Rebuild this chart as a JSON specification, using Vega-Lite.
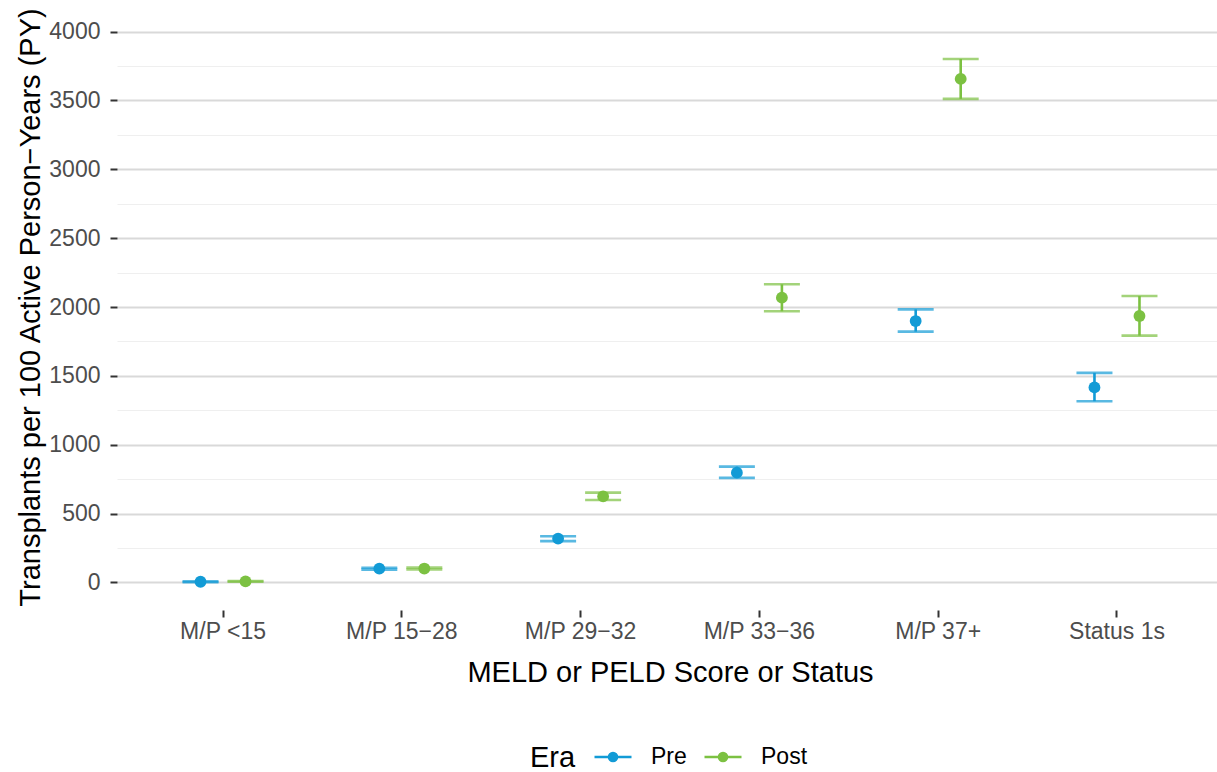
{
  "$schema": "https://vega.github.io/schema/vega-lite/v6.json",
  "width": 1100,
  "height": 606,
  "autosize": {"type": "none"},
  "padding": {"left": 117, "top": 4, "right": 0, "bottom": 162},
  "background": "white",
  "config": {
    "font": "Liberation Sans",
    "view": {"stroke": null}
  },
  "data": {
    "values": [
      {"group": "M/P <15", "era": "Pre", "rate": 5, "lo": 2, "hi": 8},
      {"group": "M/P <15", "era": "Post", "rate": 8, "lo": 5, "hi": 11},
      {"group": "M/P 15−28", "era": "Pre", "rate": 100, "lo": 93, "hi": 107},
      {"group": "M/P 15−28", "era": "Post", "rate": 101, "lo": 94, "hi": 108},
      {"group": "M/P 29−32", "era": "Pre", "rate": 318, "lo": 300, "hi": 335},
      {"group": "M/P 29−32", "era": "Post", "rate": 625, "lo": 599, "hi": 652},
      {"group": "M/P 33−36", "era": "Pre", "rate": 797, "lo": 759, "hi": 841},
      {"group": "M/P 33−36", "era": "Post", "rate": 2068, "lo": 1969, "hi": 2165},
      {"group": "M/P 37+", "era": "Pre", "rate": 1898, "lo": 1821, "hi": 1983},
      {"group": "M/P 37+", "era": "Post", "rate": 3656, "lo": 3511, "hi": 3801},
      {"group": "Status 1s", "era": "Pre", "rate": 1416, "lo": 1316, "hi": 1522},
      {"group": "Status 1s", "era": "Post", "rate": 1935, "lo": 1792, "hi": 2080}
    ]
  },
  "encoding": {
    "x": {
      "field": "group",
      "type": "nominal",
      "sort": ["M/P <15", "M/P 15−28", "M/P 29−32", "M/P 33−36", "M/P 37+", "Status 1s"],
      "scale": {"type": "band", "paddingInner": 0, "paddingOuter": 0.093, "range": [0, 1106]},
      "axis": {
        "title": "MELD or PELD Score or Status",
        "titleFontSize": 29,
        "titleFontWeight": "normal",
        "titleColor": "#000000",
        "titleY": 62,
        "titleBaseline": "middle",
        "domain": false,
        "grid": false,
        "ticks": true,
        "tickSize": 7,
        "tickWidth": 2,
        "tickColor": "#333333",
        "labelFontSize": 23,
        "labelColor": "#4d4d4d",
        "labelPadding": 3,
        "labelAngle": 0
      }
    },
    "xOffset": {
      "field": "era",
      "type": "nominal",
      "sort": ["Pre", "Post"],
      "scale": {"type": "band", "paddingInner": 0, "paddingOuter": 0.986}
    },
    "color": {
      "field": "era",
      "type": "nominal",
      "title": "Era",
      "sort": ["Pre", "Post"],
      "scale": {"domain": ["Pre", "Post"], "range": ["#129bd6", "#7cc142"]},
      "legend": {
        "orient": "none",
        "legendX": 413,
        "legendY": 733,
        "direction": "horizontal",
        "titleOrient": "left",
        "titleAnchor": "middle",
        "titleFontSize": 29,
        "titleFontWeight": "normal",
        "titleColor": "#000000",
        "titleBaseline": "middle",
        "titlePadding": 17,
        "labelFontSize": 23,
        "labelColor": "#000000",
        "labelOffset": 18,
        "columnPadding": 12,
        "padding": 0,
        "symbolType": "M-1,0H1M-0.22,0A0.22,0.22,0,1,1,0.22,0A0.22,0.22,0,1,1,-0.22,0Z",
        "symbolSize": 1369,
        "symbolStrokeWidth": 2.5,
        "encode": {
          "title": {
            "update": {
              "dy": {"value": 5}
            }
          },
          "symbols": {
            "update": {
              "fill": {"scale": "color", "field": "value"},
              "stroke": {"scale": "color", "field": "value"},
              "opacity": {"value": 1}
            }
          }
        }
      }
    }
  },
  "layer": [
    {
      "mark": {"type": "rule", "strokeWidth": 2.6},
      "encoding": {
        "y": {
          "field": "lo",
          "type": "quantitative",
          "scale": {"domain": [-200, 4200], "nice": false, "zero": false},
          "axis": {
            "orient": "left",
            "values": [250, 750, 1250, 1750, 2250, 2750, 3250, 3750],
            "grid": true,
            "gridColor": "#efefef",
            "gridWidth": 1.1,
            "ticks": false,
            "labels": false,
            "domain": false,
            "title": null
          }
        },
        "y2": {"field": "hi"}
      }
    },
    {
      "mark": {"type": "tick", "size": 36, "thickness": 2.6},
      "encoding": {
        "y": {
          "field": "lo",
          "type": "quantitative",
          "axis": {
            "orient": "left",
            "values": [0, 500, 1000, 1500, 2000, 2500, 3000, 3500, 4000],
            "format": "d",
            "grid": true,
            "gridColor": "#d9d9d9",
            "gridWidth": 1.8,
            "ticks": true,
            "tickSize": 7,
            "tickWidth": 2,
            "tickColor": "#333333",
            "labelFontSize": 23,
            "labelColor": "#4d4d4d",
            "labelPadding": 10,
            "domain": false,
            "title": "Transplants per 100 Active Person−Years (PY)",
            "titleFontSize": 29,
            "titleFontWeight": "normal",
            "titleColor": "#000000",
            "titleX": -87,
            "titleY": 303,
            "titleAngle": -90,
            "titleAlign": "center",
            "titleBaseline": "middle"
          }
        }
      }
    },
    {
      "mark": {"type": "tick", "size": 36, "thickness": 2.6},
      "encoding": {
        "y": {"field": "hi", "type": "quantitative", "axis": null}
      }
    },
    {
      "mark": {"type": "point", "filled": true, "size": 140, "opacity": 1, "shape": "circle"},
      "encoding": {
        "y": {"field": "rate", "type": "quantitative", "axis": null}
      }
    }
  ],
  "resolve": {"axis": {"y": "independent"}}
}
